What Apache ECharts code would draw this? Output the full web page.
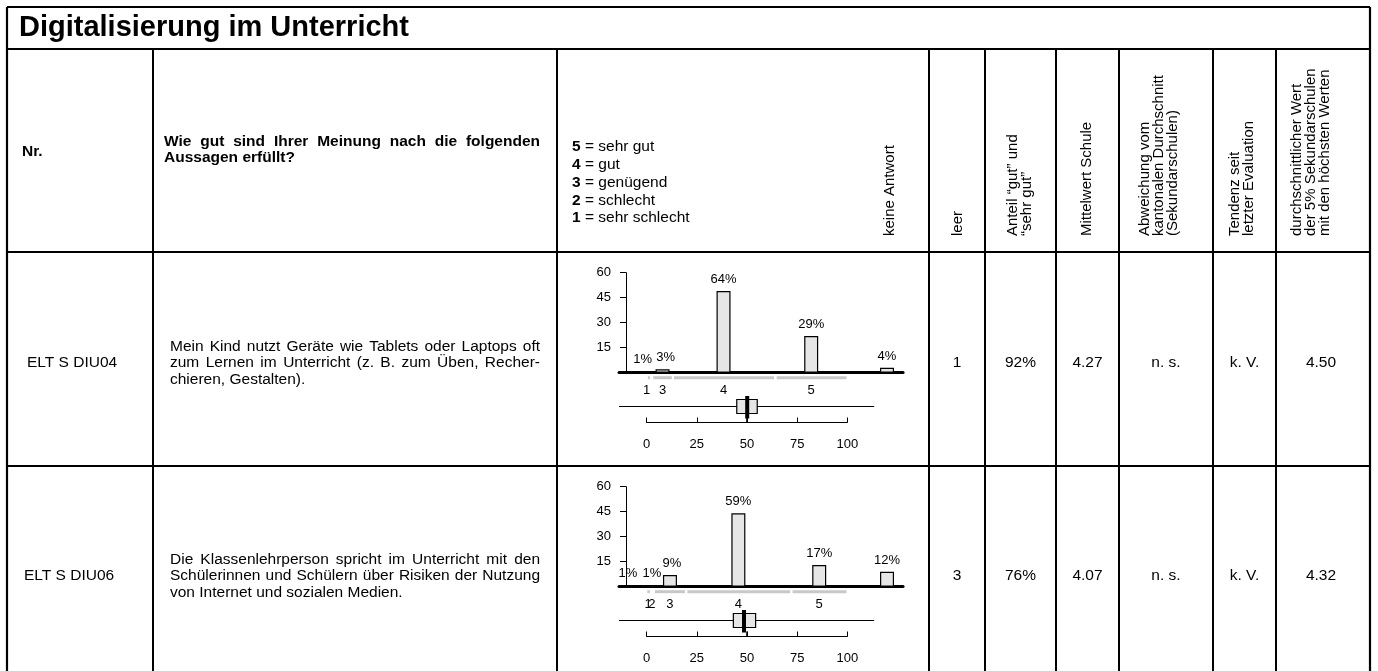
<!DOCTYPE html>
<html><head><meta charset="utf-8">
<script src="https://cdn.jsdelivr.net/npm/echarts@6/dist/echarts.min.js"></script>
<style>html,body{margin:0;padding:0;background:#fff}#c{width:1378px;height:671px}</style>
</head><body><div id="c"></div>
<script>
// ---------------- DATA ----------------
const title = 'Digitalisierung im Unterricht';
const headerNr = 'Nr.';
const headerQuestion = ['Wie gut sind Ihrer Meinung nach die folgenden', 'Aussagen erfüllt?'];
const legendKeys = ['5', '4', '3', '2', '1'];
const legendTexts = ['sehr gut', 'gut', 'genügend', 'schlecht', 'sehr schlecht'];
const headerKeine = 'keine Antwort';
const colHeaders = [
  ['leer'],
  ['Anteil “gut” und', '“sehr gut”'],
  ['Mittelwert Schule'],
  ['Abweichung vom', 'kantonalen Durchschnitt', '(Sekundarschulen)'],
  ['Tendenz seit', 'letzter Evaluation'],
  ['durchschnittlicher Wert', 'der 5% Sekundarschulen', 'mit den höchsten Werten']
];
const itemIds = ['ELT S DIU04', 'ELT S DIU06'];
const itemTexts = [
  ['Mein Kind nutzt Geräte wie Tablets oder Laptops oft', 'zum Lernen im Unterricht (z. B. zum Üben, Recher-', 'chieren, Gestalten).'],
  ['Die Klassenlehrperson spricht im Unterricht mit den', 'Schülerinnen und Schülern über Risiken der Nutzung', 'von Internet und sozialen Medien.']
];
const leer = ['1', '3'];
const anteil = ['92%', '76%'];
const mittelwert = ['4.27', '4.07'];
const abweichung = ['n. s.', 'n. s.'];
const tendenz = ['k. V.', 'k. V.'];
const top5 = ['4.50', '4.32'];

// mini charts
const countTicks = [0, 15, 30, 45, 60];
const scaleTicks = [0, 25, 50, 75, 100];
const row1Cats = ['1', '3', '4', '5', ''];
const row1Pos = [0, 7.9, 38.3, 82.0, 119.8];
const row1Counts = [1, 2, 49, 22, 3];
const row1Pct = ['1%', '3%', '64%', '29%', '4%'];
const row1Seg = [[0.6, 1.6], [3.3, 12.5], [13.6, 63.5], [64.8, 99.6]];
const row1Whisker = [-13.8, 113.4];
const row1Box = [44.9, 55.1];
const row1School = 50.1;

const row2Cats = ['1', '2', '3', '4', '5', ''];
const row2Pos = [0.65, 2.6, 11.6, 45.7, 86.0, 119.8];
const row2Counts = [1, 1, 7, 44, 13, 9];
const row2Pct = ['1%', '1%', '9%', '59%', '17%', '12%'];
const row2Seg = [[0.3, 1.6], [4.1, 19.1], [20.3, 71.5], [72.7, 99.6]];
const row2Whisker = [-13.8, 113.4];
const row2Box = [43.2, 54.3];
const row2School = 48.5;

const refValue = 50;

// ---------------- LAYOUT / STYLE ----------------
const FF = '"Liberation Sans", Arial, Helvetica, sans-serif';
const FS = 15.5;
const FONT = FS + 'px ' + FF;
const BOLD = 'bold ' + FS + 'px ' + FF;
const VAL_FONT = '15.5px ' + FF;
const ROT_FONT = '15px ' + FF;
const SMALL = 13;
const BAR_FILL = '#e6e6e6';
const SEG_COLOR = '#c8c8c8';

const L = 7, R = 1370, TOP = 7, BOTTOM = 671;
const H_TITLE = 49, H_HEAD = 252, H_ROW = 466;
const VCOLS = [153, 557, 929, 985, 1056, 1119, 1213, 1276];
const ROW_TOP = [252, 466];
const ROW_MID = [363, 576];

const mctx = document.createElement('canvas').getContext('2d');

function T(x, y, text, o) {
  o = o || {};
  return {
    type: 'text', x: x, y: y, rotation: o.rot || 0, silent: true,
    style: { text: text, font: o.font || FONT, fill: '#000', align: o.align || 'left', verticalAlign: 'middle', rich: o.rich }
  };
}
function Ln(x1, y1, x2, y2, w, c) {
  return { type: 'line', silent: true, shape: { x1: x1, y1: y1, x2: x2, y2: y2 }, style: { stroke: c || '#000', lineWidth: w || 2 } };
}
function justified(lines, x, width, y0, lh, font) {
  mctx.font = font;
  const els = [];
  lines.forEach(function (line, li) {
    const y = y0 + li * lh;
    if (li === lines.length - 1) { els.push(T(x, y, line, { font: font })); return; }
    const words = line.split(' ');
    const ws = words.map(function (w) { return mctx.measureText(w).width; });
    const sum = ws.reduce(function (a, b) { return a + b; }, 0);
    const gap = Math.max(mctx.measureText(' ').width, (width - sum) / (words.length - 1));
    let cx = x;
    words.forEach(function (w, i) { els.push(T(cx, y, w, { font: font })); cx += ws[i] + gap; });
  });
  return els;
}

const g = [];
// table lines
g.push(Ln(L, TOP, R, TOP, 2.2));
g.push(Ln(L, TOP, L, BOTTOM, 2.2));
g.push(Ln(R, TOP, R, BOTTOM, 2.2));
g.push(Ln(L, H_TITLE, R, H_TITLE, 2));
g.push(Ln(L, H_HEAD, R, H_HEAD, 2));
g.push(Ln(L, H_ROW, R, H_ROW, 2));
VCOLS.forEach(function (x) { g.push(Ln(x, H_TITLE, x, BOTTOM, 2)); });

// title + header
g.push(T(19, 28, title, { font: 'bold 29px ' + FF }));
g.push(T(22, 152, headerNr, { font: BOLD }));
justified(headerQuestion, 164, 376, 142, 15.5, BOLD).forEach(function (e) { g.push(e); });
legendKeys.forEach(function (k, i) {
  g.push(T(572, 147 + i * 17.8, '{b|' + k + '}{n| = ' + legendTexts[i] + '}', {
    rich: { b: { fontWeight: 'bold', fontSize: FS, fontFamily: FF }, n: { fontSize: FS, fontFamily: FF } }
  }));
});
const ROT = Math.PI / 2, HEAD_BASE = 236;
g.push(T(890, HEAD_BASE, headerKeine, { rot: ROT, font: ROT_FONT }));
const headX = [[958], [1013, 1027], [1087], [1145, 1159, 1173], [1235, 1249], [1297, 1311, 1325]];
colHeaders.forEach(function (lines, ci) {
  lines.forEach(function (ln, li) { g.push(T(headX[ci][li], HEAD_BASE, ln, { rot: ROT, font: ROT_FONT })); });
});

// rows
const idX = [27, 24];
const valCols = [leer, anteil, mittelwert, abweichung, tendenz, top5];
const valX = [957, 1020.5, 1087.5, 1166, 1244.5, 1321];
for (let r = 0; r < 2; r++) {
  g.push(T(idX[r], ROW_MID[r], itemIds[r]));
  justified(itemTexts[r], 170, 370, ROW_MID[r] - 16.5, 16.5, FONT).forEach(function (e) { g.push(e); });
  valCols.forEach(function (arr, ci) { g.push(T(valX[ci], ROW_MID[r], arr[r], { align: 'center', font: VAL_FONT })); });
}

// ---------------- CHARTS ----------------
const rows = [
  { cats: row1Cats, pos: row1Pos, counts: row1Counts, pct: row1Pct, seg: row1Seg, whisker: row1Whisker, box: row1Box, school: row1School, labelOffsets: { 0: [-4, 0], 1: [3, 0] } },
  { cats: row2Cats, pos: row2Pos, counts: row2Counts, pct: row2Pct, seg: row2Seg, whisker: row2Whisker, box: row2Box, school: row2School, labelOffsets: { 0: [-20, 0], 2: [2, 0] } }
];
const PX_PER_UNIT = 2.006, ZERO_X = 646.7, XMIN = -13.8, XMAX = 127.8;
const grids = [], xAxes = [], yAxes = [], series = [];
rows.forEach(function (d, r) {
  const base = ROW_TOP[r] + 120.7;
  const axisY = ROW_TOP[r] + 170.5;
  // bar grid
  grids.push({ left: ZERO_X + XMIN * PX_PER_UNIT, width: (XMAX - XMIN) * PX_PER_UNIT, top: base - 100, height: 100 });
  const bi = grids.length - 1;
  xAxes.push({ gridIndex: bi, type: 'value', min: XMIN, max: XMAX,
    axisLine: { show: true, onZero: false, lineStyle: { color: '#000', width: 3 } },
    axisTick: { show: false }, axisLabel: { show: false }, splitLine: { show: false } });
  yAxes.push({ gridIndex: bi, type: 'value', min: countTicks[0], max: countTicks[countTicks.length - 1], interval: 15, offset: -7,
    axisLine: { show: true, onZero: false, lineStyle: { color: '#000', width: 1 } },
    axisTick: { show: true, length: 6, lineStyle: { color: '#000', width: 1 } },
    axisLabel: { show: true, margin: 15, fontSize: SMALL, fontFamily: FF, color: '#000',
      formatter: function (v) { return v === 0 ? '' : String(v); } },
    splitLine: { show: false } });
  series.push({
    type: 'bar', xAxisIndex: bi, yAxisIndex: bi, barWidth: 14, z: 3,
    itemStyle: { color: BAR_FILL, borderColor: '#000', borderWidth: 1.2 },
    label: { show: true, position: 'top', distance: 5, fontSize: SMALL, fontFamily: FF, color: '#000',
      formatter: function (p) { return d.pct[p.dataIndex]; } },
    data: d.pos.map(function (x, i) {
      const item = { value: [x, d.counts[i]] };
      if (d.labelOffsets[i]) item.label = { offset: d.labelOffsets[i] };
      return item;
    }),
    animation: false
  });
  // grey category ranges
  series.push({
    type: 'custom', xAxisIndex: bi, yAxisIndex: bi, clip: false, z: 2, animation: false,
    data: d.seg,
    renderItem: function (params, api) {
      const a = api.coord([api.value(0), 0]), b = api.coord([api.value(1), 0]);
      return { type: 'line', shape: { x1: a[0], y1: a[1] + 5, x2: b[0], y2: a[1] + 5 }, style: { stroke: SEG_COLOR, lineWidth: 3 } };
    }
  });
  // category labels below
  series.push({
    type: 'custom', xAxisIndex: bi, yAxisIndex: bi, clip: false, z: 2, animation: false,
    data: d.pos.map(function (x, i) { return [x, i]; }),
    renderItem: function (params, api) {
      const a = api.coord([api.value(0), 0]);
      return { type: 'text', x: a[0], y: a[1] + 18,
        style: { text: d.cats[params.dataIndex], font: SMALL + 'px ' + FF, fill: '#000', align: 'center', verticalAlign: 'middle' } };
    }
  });
  // box grid
  grids.push({ left: ZERO_X, width: 100 * PX_PER_UNIT, top: axisY - 30, height: 30 });
  const gi = grids.length - 1;
  xAxes.push({ gridIndex: gi, type: 'value', min: scaleTicks[0], max: scaleTicks[scaleTicks.length - 1], interval: 25,
    axisLine: { show: true, onZero: false, lineStyle: { color: '#000', width: 1 } },
    axisTick: { show: true, inside: true, length: 5, lineStyle: { color: '#000', width: 1 } },
    axisLabel: { show: true, margin: 15, fontSize: SMALL, fontFamily: FF, color: '#000' },
    splitLine: { show: false } });
  yAxes.push({ gridIndex: gi, type: 'value', min: 0, max: 30, show: false });
  series.push({
    type: 'custom', xAxisIndex: gi, yAxisIndex: gi, clip: false, animation: false,
    data: [[d.whisker[0], d.whisker[1], d.box[0], d.box[1], d.school, refValue]],
    renderItem: function (params, api) {
      const y0 = api.coord([0, 0])[1];
      const X = function (v) { return api.coord([v, 0])[0]; };
      return { type: 'group', children: [
        { type: 'line', shape: { x1: X(api.value(0)), y1: y0 - 16, x2: X(api.value(1)), y2: y0 - 16 }, style: { stroke: '#000', lineWidth: 1 } },
        { type: 'rect', shape: { x: X(api.value(2)), y: y0 - 23, width: X(api.value(3)) - X(api.value(2)), height: 14 }, style: { fill: BAR_FILL, stroke: '#000', lineWidth: 1.2 } },
        { type: 'line', shape: { x1: X(api.value(5)), y1: y0 - 5, x2: X(api.value(5)), y2: y0 }, style: { stroke: '#000', lineWidth: 1.6 } },
        { type: 'line', shape: { x1: X(api.value(4)), y1: y0 - 26.5, x2: X(api.value(4)), y2: y0 - 4 }, style: { stroke: '#000', lineWidth: 4 } }
      ] };
    }
  });
});

const chart = echarts.init(document.getElementById('c'), null, { renderer: 'canvas' });
chart.setOption({
  animation: false,
  backgroundColor: '#fff',
  grid: grids, xAxis: xAxes, yAxis: yAxes, series: series,
  graphic: { elements: g }
});
</script></body></html>
